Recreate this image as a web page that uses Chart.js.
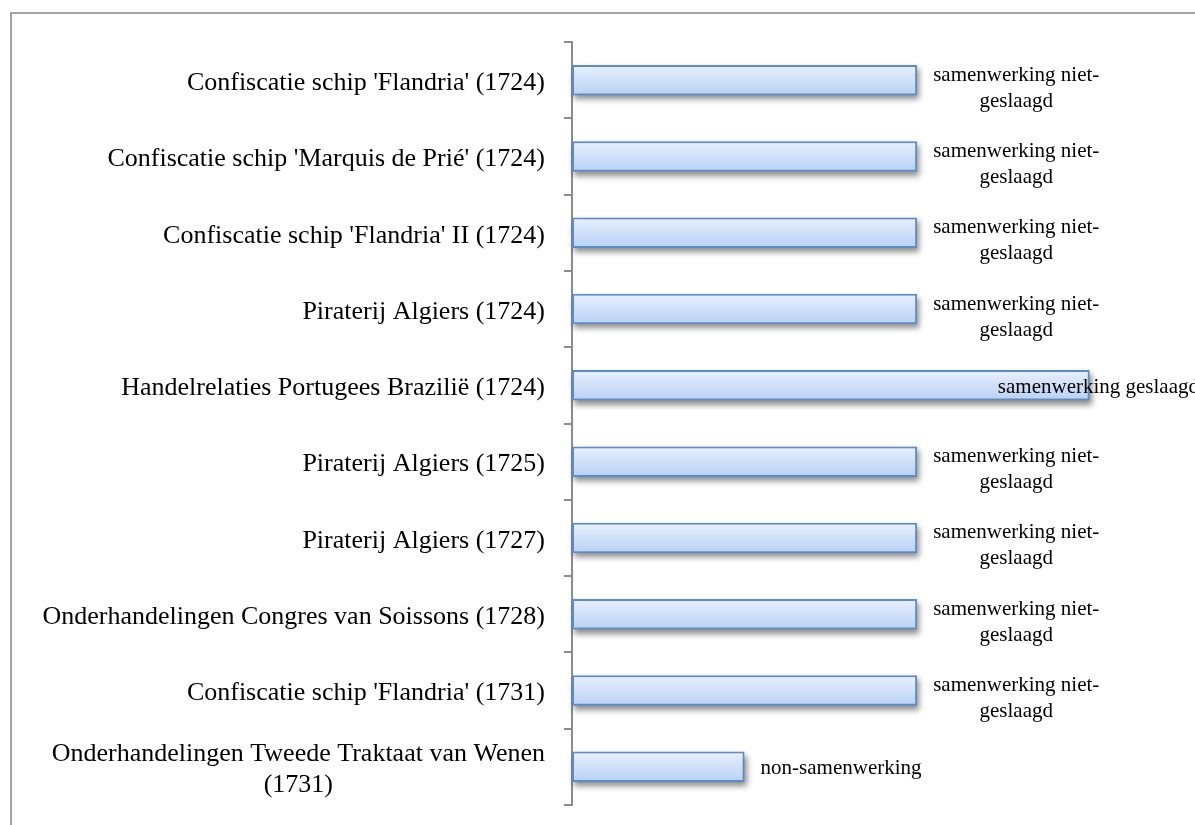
<!DOCTYPE html>
<html>
<head>
<meta charset="utf-8">
<script src="https://cdn.jsdelivr.net/npm/chart.js@4"></script>
<style>
  body { margin: 0; background: #fff; overflow: hidden; }
  #frame { position: absolute; left: 10px; top: 12px; width: 1300px; height: 900px; border: 2px solid #a3a3a3; }
  #wrap { position: absolute; left: 0; top: 0; width: 1195px; height: 825px; }
</style>
</head>
<body>
<div id="frame"></div>
<div id="wrap"><canvas id="chart" width="1195" height="825"></canvas></div>
<script>
// categorieën (van boven naar beneden)
const categories = [
  "Confiscatie schip 'Flandria' (1724)",
  "Confiscatie schip 'Marquis de Prié' (1724)",
  "Confiscatie schip 'Flandria' II (1724)",
  "Piraterij Algiers (1724)",
  "Handelrelaties Portugees Brazilië (1724)",
  "Piraterij Algiers (1725)",
  "Piraterij Algiers (1727)",
  "Onderhandelingen Congres van Soissons (1728)",
  "Confiscatie schip 'Flandria' (1731)",
  ["Onderhandelingen Tweede Traktaat van Wenen", "(1731)"]
];
const values = [2, 2, 2, 2, 3, 2, 2, 2, 2, 1];
const labels = [
  "samenwerking niet-\ngeslaagd",
  "samenwerking niet-\ngeslaagd",
  "samenwerking niet-\ngeslaagd",
  "samenwerking niet-\ngeslaagd",
  "samenwerking geslaagd",
  "samenwerking niet-\ngeslaagd",
  "samenwerking niet-\ngeslaagd",
  "samenwerking niet-\ngeslaagd",
  "samenwerking niet-\ngeslaagd",
  "non-samenwerking"
];

const serif = "'Liberation Serif', 'DejaVu Serif', serif";

// verloop per balk + schaduw eronder
const barStyle = {
  id: 'barStyle',
  beforeDatasetsDraw(chart) {
    const c = chart.ctx;
    chart.getDatasetMeta(0).data.forEach(el => {
      const top = el.y - el.height / 2;
      const g = c.createLinearGradient(0, top, 0, top + el.height);
      g.addColorStop(0, '#e8f0fd');
      g.addColorStop(1, '#b8d1f5');
      el.options.backgroundColor = g;

      // schaduw: rechthoek buiten beeld, alleen de schaduw valt op de plek
      const left = Math.min(el.x, el.base);
      const w = Math.abs(el.x - el.base);
      c.save();
      c.shadowColor = 'rgba(0,0,0,0.45)';
      c.shadowBlur = 6;
      c.shadowOffsetX = 5000 + 2;
      c.shadowOffsetY = 4;
      c.fillStyle = '#000';
      c.fillRect(left - 5000, top, w, el.height);
      c.restore();
    });
  }
};

// categorie-labels, regels gecentreerd binnen het blok
const catLabels = {
  id: 'catLabels',
  afterDraw(chart) {
    const c = chart.ctx;
    const y = chart.scales.y;
    c.save();
    c.font = '26px ' + serif;
    c.fillStyle = '#000';
    c.textAlign = 'center';
    c.textBaseline = 'middle';
    categories.forEach((lab, i) => {
      const lines = Array.isArray(lab) ? lab : [lab];
      const w = Math.max(...lines.map(l => c.measureText(l).width));
      const cx = y.right - 27 - w / 2;
      const py = y.getPixelForTick(i);
      const lh = 31;
      const start = py + 3 - (lines.length - 1) * lh / 2;
      lines.forEach((l, k) => c.fillText(l, cx, start + k * lh));
    });
    c.restore();
  }
};

// waardelabels rechts van de balk
const dataLabels = {
  id: 'dataLabels',
  afterDraw(chart) {
    const c = chart.ctx;
    c.save();
    c.font = '21px ' + serif;
    c.fillStyle = '#000';
    c.textAlign = 'center';
    c.textBaseline = 'middle';
    chart.getDatasetMeta(0).data.forEach((el, i) => {
      const lines = labels[i].split('\n');
      const w = Math.max(...lines.map(l => c.measureText(l).width));
      let left = el.x + 16;
      if (left + w > chart.width + 4) left = chart.width + 4 - w;
      const cx = left + w / 2;
      const lh = 26;
      const start = lines.length > 1 ? el.y - 5 : el.y + 2;
      lines.forEach((l, k) => c.fillText(l, cx, start + k * lh));
    });
    c.restore();
  }
};

new Chart(document.getElementById('chart'), {
  type: 'bar',
  data: {
    labels: categories,
    datasets: [{
      data: values,
      backgroundColor: () => '#cfe0f9', // scriptable: elke balk eigen opties
      borderColor: '#5b8bc9',
      borderWidth: 2,
      borderSkipped: false,
      categoryPercentage: 1,
      barPercentage: 0.4
    }]
  },
  options: {
    indexAxis: 'y',
    responsive: false,
    animation: false,
    events: [],
    layout: { padding: { top: 42, bottom: 20, left: 0, right: 19 } },
    plugins: { legend: { display: false }, tooltip: { enabled: false } },
    scales: {
      x: { display: false, min: 0, max: 3.5 },
      y: {
        afterFit(s) { s.width = 572; },
        border: { display: true, color: '#8c8c8c', width: 2 },
        grid: { drawOnChartArea: false, drawTicks: true, tickLength: 8, color: '#8c8c8c', lineWidth: 2, offset: true },
        ticks: { display: false }
      }
    }
  },
  plugins: [barStyle, catLabels, dataLabels]
});
</script>
</body>
</html>
